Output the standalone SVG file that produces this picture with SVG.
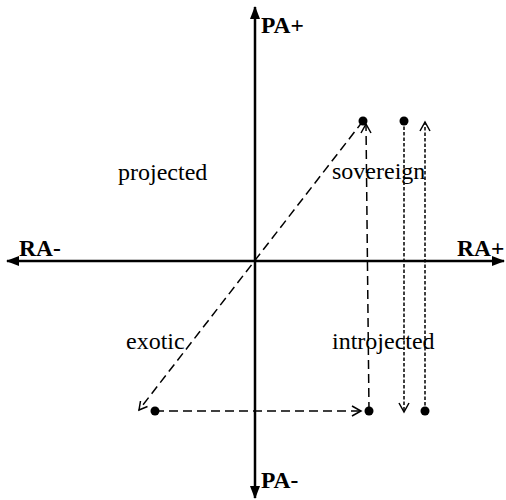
<svg xmlns="http://www.w3.org/2000/svg" width="506" height="500" viewBox="0 0 506 500">
<style>
.ax{stroke:#000;stroke-width:2.5;fill:none}
.lbl{font-family:"Liberation Serif","Times New Roman",serif;font-weight:bold;font-size:23.5px;fill:#000}
.reg{font-family:"Liberation Serif","Times New Roman",serif;font-size:24px;fill:#000}
.dash{stroke:#000;stroke-width:1.5;fill:none;stroke-dasharray:9 5}
.dot{stroke:#000;stroke-width:1.5;fill:none;stroke-dasharray:3.5 2}
.head{stroke:#000;stroke-width:1.5;fill:none}
.pt{fill:#000}
</style>
<defs>
<marker id="solid" markerWidth="13" markerHeight="10" refX="12" refY="5" orient="auto" markerUnits="userSpaceOnUse">
<path d="M0,0 L13,5 L0,10 z" fill="#000"/>
</marker>
</defs>
<g id="axes">
<line class="ax" x1="255" y1="261" x2="255" y2="7" marker-end="url(#solid)"/>
<line class="ax" x1="255" y1="261" x2="255" y2="498" marker-end="url(#solid)"/>
<line class="ax" x1="255" y1="261" x2="504" y2="261" marker-end="url(#solid)"/>
<line class="ax" x1="255" y1="261" x2="7" y2="261" marker-end="url(#solid)"/>
</g>
<g id="axis-labels">
<text class="lbl" x="261" y="33">PA+</text>
<text class="lbl" x="261" y="488">PA-</text>
<text class="lbl" x="19" y="256">RA-</text>
<text class="lbl" x="457" y="256">RA+</text>
</g>
<g id="quadrants">
<text class="reg" x="118" y="180">projected</text>
<text class="reg" x="332" y="179">sovereign</text>
<text class="reg" x="126" y="349">exotic</text>
<text class="reg" x="332" y="349">introjected</text>
</g>
<g id="connectors">
<line class="dash" x1="363" y1="121" x2="139" y2="410"/>
<path class="head" d="M140.5,401 L139,410 L147.5,406.5"/>
<line class="dash" x1="155" y1="411" x2="360" y2="411"/>
<path class="head" d="M352,406 L361,411 L352,416"/>
<line class="dash" x1="369" y1="411" x2="366" y2="124"/>
<path class="head" d="M361,133 L366,124 L371,133"/>
<line class="dot" x1="404" y1="121" x2="404" y2="412"/>
<path class="head" d="M399,403 L404,412 L409,403"/>
<line class="dot" x1="425" y1="411" x2="425" y2="122"/>
<path class="head" d="M420,131 L425,122 L430,131"/>
</g>
<g id="points">
<circle class="pt" cx="363" cy="121" r="4.5"/>
<circle class="pt" cx="404" cy="121" r="4.5"/>
<circle class="pt" cx="155" cy="411" r="4.5"/>
<circle class="pt" cx="369" cy="411" r="4.5"/>
<circle class="pt" cx="425" cy="411" r="4.5"/>
</g>
</svg>
